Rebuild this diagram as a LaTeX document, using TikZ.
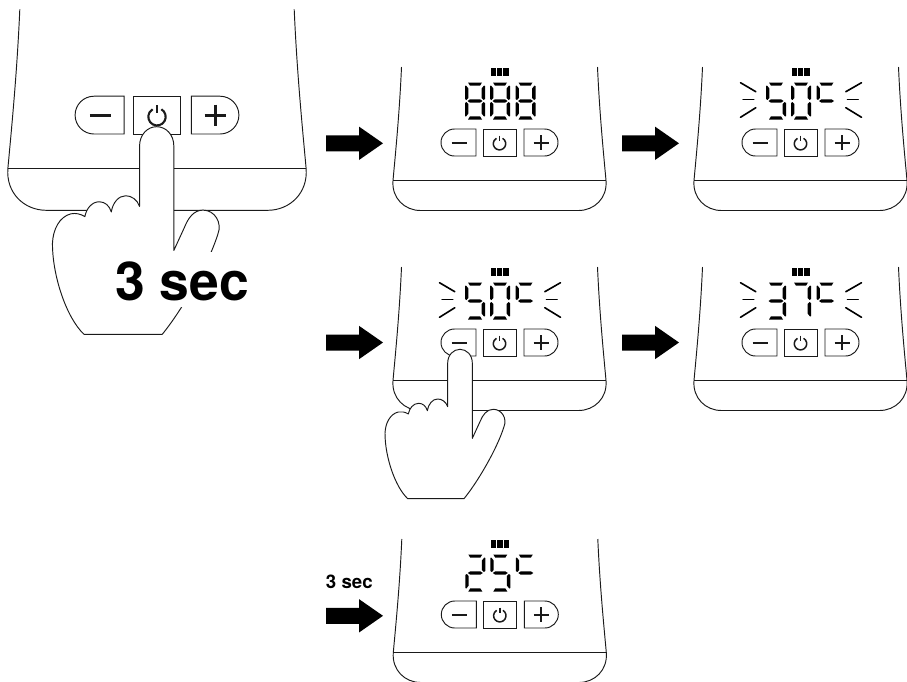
\documentclass[tikz,border=0pt]{standalone}
\usepackage{fontspec}
\setmainfont{TeX Gyre Heros}
\definecolor{ink}{HTML}{1A1A1A}
\tikzset{
  outline/.style={draw=ink,line width=0.95pt},
  ray/.style={draw=black,line width=1.6pt,line cap=round},
  blockarrow/.style={fill=black},
  label/.style={anchor=base,inner sep=0pt,text=black},
}
% seven-segment pieces, in a 20 x 37 frame
\newcommand\segA{\fill (3,0)--(17,0)--(15,3.2)--(5,3.2)--cycle;}
\newcommand\segB{\fill (20,3.5)--(19,3)--(16.6,6)--(16.6,15.5)--(18.5,17.5)--(20,16.5)--cycle;}
\newcommand\segC{\fill (20,20.5)--(18.5,19.5)--(16.6,21.5)--(16.6,31)--(19,34)--(20,33.5)--cycle;}
\newcommand\segD{\fill (5,33.8)--(15,33.8)--(17,37)--(3,37)--cycle;}
\newcommand\segE{\fill (0,20.5)--(1.5,19.5)--(3.4,21.5)--(3.4,31)--(1,34)--(0,33.5)--cycle;}
\newcommand\segF{\fill (0,3.5)--(1,3)--(3.4,6)--(3.4,15.5)--(1.5,17.5)--(0,16.5)--cycle;}
\newcommand\segG{\fill (2.5,18.5)--(5,16.8)--(15,16.8)--(17.5,18.5)--(15,20.2)--(5,20.2)--cycle;}
\newcommand\seven[2]{\begin{scope}[shift={(#1,-60.5)}]#2\end{scope}}
\newcommand\glyphs[3]{\seven{-34.5}{#1}\seven{-9.5}{#2}\seven{16}{#3}}
\newcommand\degc{\segA\segF\segG}
\newcommand\eight{\segA\segB\segC\segD\segE\segF\segG}
\newcommand\five{\segA\segF\segG\segC\segD}
\newcommand\zero{\segA\segB\segC\segD\segE\segF}
\newcommand\rays{%
  \draw[ray] (-60,-60.3)--(-44.7,-51.3);
  \draw[ray] (-57.4,-43.7)--(-46.7,-43.7);
  \draw[ray] (-60,-25.7)--(-44.7,-35.3);
  \draw[ray] (61,-60.3)--(45.3,-51.3);
  \draw[ray] (57.6,-43.7)--(47,-43.7);
  \draw[ray] (61,-25.7)--(45.3,-35.3);
}
\newcommand\bars{%
  \fill (-8.5,-75.5) rectangle (-3.4,-67.5);
  \fill (-2.4,-75.5) rectangle (2.7,-67.5);
  \fill (3.7,-75.5) rectangle (9,-67.5);
}
% #1 cx, #2 cy, #3 scale, #4 display contents
\newcommand\device[4]{%
\begin{scope}[shift={(#1,#2)},scale=#3]
  \draw[outline,line join=round]
    (-98,-76) .. controls (-100,-30) and (-104,10) .. (-106.5,37.5)
    .. controls (-108,55) and (-95,67.5) .. (-79,67.5) -- (79,67.5)
    .. controls (95,67.5) and (108,55) .. (106.5,37.5)
    .. controls (104,10) and (100,-30) .. (98,-76);
  \draw[outline] (-106.5,37.5) -- (106.5,37.5);
  \draw[outline] (-23.5,-14) -- (-45,-14) arc[start angle=-90,end angle=-270,radius=13.5] -- (-23.5,13) -- cycle;
  \draw[outline] (-16.5,-14) rectangle (16.5,13);
  \draw[outline] (24.5,-14) -- (45,-14) arc[start angle=-90,end angle=90,radius=13.5] -- (24.5,13) -- cycle;
  \draw[line width=2.1pt*#3,ink] (-48,-0.4) -- (-33,-0.4);
  \draw[line width=2.1pt*#3,ink] (34,-0.4) -- (49,-0.4) (41.5,-7.9) -- (41.5,7.1);
  \draw[line width=1.5pt*#3,ink] (0,0.7) ++(-60:6.2) arc[start angle=-60,end angle=240,radius=6.2];
  \draw[line width=1.5pt*#3,ink] (0,-7.5) -- (0,-2);
  #4
\end{scope}}
% #1 finger-top x, #2 finger-top y, #3 scale
\newcommand\hand[3]{%
\begin{scope}[shift={(#1,#2)},scale=#3/3,shift={(-270,-268)}]
  \draw[outline,fill=white,line join=round]
    (307,535) -- (307,310) .. controls (307,285) and (290,268) .. (270,268)
    .. controls (250,268) and (233,285) .. (233,310) -- (233,440)
    .. controls (228,425) and (215,417) .. (203,417)
    .. controls (188,417) and (175,432) .. (172,452)
    .. controls (168,438) and (158,430) .. (146,430)
    .. controls (130,430) and (118,445) .. (115,462)
    .. controls (105,456) and (95,454) .. (85,456)
    .. controls (60,462) and (46,490) .. (45,520)
    .. controls (45,590) and (75,680) .. (113,716) -- (282,716)
    .. controls (320,670) and (380,570) .. (402,500)
    .. controls (412,475) and (395,448) .. (370,448)
    .. controls (350,448) and (338,465) .. (330,485) -- cycle;
\end{scope}}
\newcommand\bigarrow[2]{%
  \fill[blockarrow,shift={(#1,#2)}] (0,-8) -- (33,-8) -- (33,-16.7) -- (57,0) -- (33,16.7) -- (33,8) -- (0,8) -- cycle;}
\begin{document}
\begin{tikzpicture}[x=1pt,y=-1pt]
  \clip (0,0) rectangle (907,681);
  \device{157}{115.8}{1.4}{}
  \hand{156.7}{126.7}{1.39}
  \node[label,font=\bfseries\fontsize{53.5}{53.5}\selectfont,text height=48pt,text depth=7pt,fill=white] (longpress) at (182,300) {3 sec};

  \bigarrow{326}{143.3}
  \device{499.5}{143}{1}{\bars\glyphs{\eight}{\eight}{\eight}}
  \bigarrow{622}{143.3}
  \device{800.5}{143}{1}{\bars\rays\glyphs{\five}{\zero}{\degc}}

  \bigarrow{326}{342.5}
  \device{499.5}{343}{1}{\bars\rays\glyphs{\five}{\zero}{\degc}}
  \hand{460}{349.3}{1}
  \bigarrow{622}{342.5}
  \device{800.5}{343}{1}{\bars\rays\glyphs{\segA\segB\segG\segC\segD}{\segA\segB\segC}{\degc}}

  \node[label,font=\bfseries\fontsize{18.7}{18.7}\selectfont] (shortpress) at (349.3,588) {3 sec};
  \bigarrow{326}{615.8}
  \device{499.8}{615}{1}{\bars\glyphs{\segA\segB\segG\segE\segD}{\five}{\degc}}
\end{tikzpicture}
\end{document}
